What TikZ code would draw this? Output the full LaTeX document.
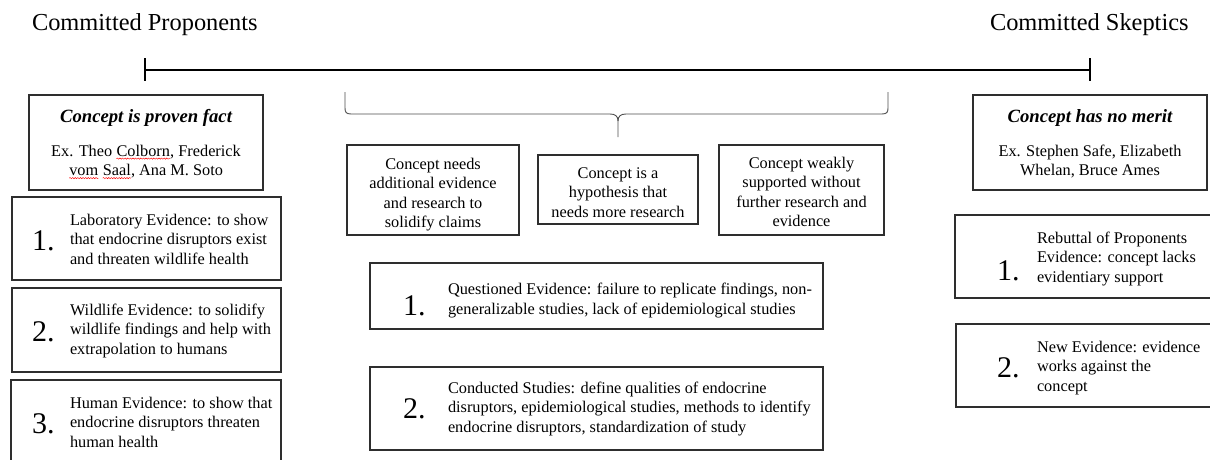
\documentclass[tikz,border=0pt]{standalone}
\usepackage{fontspec}
\setmainfont{Liberation Serif}
\usetikzlibrary{fit,decorations.pathmorphing}
\newcommand\spellmark[1]{\tikz[baseline=(w.base)]{\node[inner sep=0pt,outer sep=0pt] (w) {#1};\draw[red,line width=0.45pt,decorate,decoration={snake,amplitude=0.6pt,segment length=2.6pt}] ([yshift=-2.6pt]w.base west) -- ([yshift=-2.6pt]w.base east);}}
\begin{document}
\begin{tikzpicture}[x=1pt,y=-1pt,
  box/.style={draw=black!82,line width=1.2pt,inner sep=0pt,outer sep=0pt},
  txt/.style={inner sep=0pt,outer sep=0pt,font=\fontsize{16.3}{19.5}\selectfont},
  num/.style={inner sep=0pt,outer sep=0pt,anchor=base west,font=\fontsize{30}{30}\selectfont},
  head/.style={inner sep=0pt,outer sep=0pt,anchor=base,font=\fontsize{18.7}{22}\selectfont\bfseries\itshape},
  title/.style={inner sep=0pt,outer sep=0pt,anchor=base west,font=\fontsize{24.4}{28}\selectfont},
  axis/.style={line width=2pt,black},
  brace/.style={line width=0.9pt,black!70}]
\useasboundingbox (0,0) rectangle (1210,459);
\clip (0,0) rectangle (1210,459);
% titles
\node[title] (tP) at (32,30) {Committed Proponents};
\node[title] (tS) at (990,30) {Committed Skeptics};
% timeline
\coordinate (tlL) at (145,70);
\coordinate (tlR) at (1090,70);
\draw[axis] (tlL) -- (tlR);
\draw[axis] (145,58) -- (145,81);
\draw[axis] (1090,58) -- (1090,81);
% left column
\node[box,fit={(29,95)(263,190)}] (A) {};
\node[head] (Ah) at (146,122) {Concept is proven fact};
\node[txt,anchor=base,align=center] (At) at (146,175.5) {Ex. Theo \spellmark{Colborn}, Frederick\\\spellmark{vom} \spellmark{Saal}, Ana M. Soto};
\node[box,fit={(12,197)(281,280)}] (L1) {};
\node[num] (L1n) at (32,250) {1.};
\node[txt,anchor=base west,align=left] (L1t) at (70,264) {Laboratory Evidence: to show\\that endocrine disruptors exist\\and threaten wildlife health};
\node[box,fit={(12,288)(281,372)}] (L2) {};
\node[num] (L2n) at (32,341) {2.};
\node[txt,anchor=base west,align=left] (L2t) at (70,354) {Wildlife Evidence: to solidify\\wildlife findings and help with\\extrapolation to humans};
\node[box,fit={(11,380)(281,475)}] (L3) {};
\node[num] (L3n) at (32,433) {3.};
\node[txt,anchor=base west,align=left] (L3t) at (70,447) {Human Evidence: to show that\\endocrine disruptors threaten\\human health};
% brace
\draw[brace] (345,92) -- (345,108) .. controls (345,112) and (346,114) .. (351,114) -- (610,114)
  .. controls (615,114) and (618,116) .. (618,121) -- (618,137);
\draw[brace] (888,92) -- (888,108) .. controls (888,112) and (887,114) .. (882,114) -- (626,114)
  .. controls (621,114) and (618,116) .. (618,121);
% middle boxes
\node[box,fit={(347,145)(519,235)}] (M1) {};
\node[txt,anchor=base,align=center] (M1t) at (433,227.5) {Concept needs\\additional evidence\\and research to\\solidify claims};
\node[box,fit={(538,155)(698,224)}] (M2) {};
\node[txt,anchor=base,align=center] (M2t) at (618,217) {Concept is a\\hypothesis that\\needs more research};
\node[box,fit={(719,145)(884,235)}] (M3) {};
\node[txt,anchor=base,align=center] (M3t) at (801.5,226.5) {Concept weakly\\supported without\\further research and\\evidence};
\node[box,fit={(370,263)(823,329)}] (Q1) {};
\node[num] (Q1n) at (403,315) {1.};
\node[txt,anchor=base west,align=left] (Q1t) at (448,314) {Questioned Evidence: failure to replicate findings, non-\\generalizable studies, lack of epidemiological studies};
\node[box,fit={(370,367)(823,450)}] (Q2) {};
\node[num] (Q2n) at (403,418) {2.};
\node[txt,anchor=base west,align=left] (Q2t) at (448,432) {Conducted Studies: define qualities of endocrine\\disruptors, epidemiological studies, methods to identify\\endocrine disruptors, standardization of study};
% right column
\node[box,fit={(973,95)(1207,190)}] (R0) {};
\node[head] (R0h) at (1090,122) {Concept has no merit};
\node[txt,anchor=base,align=center] (R0t) at (1090,175.5) {Ex. Stephen Safe, Elizabeth\\Whelan, Bruce Ames};
\node[box,fit={(955,215)(1220,298)}] (R1) {};
\node[num] (R1n) at (997,280) {1.};
\node[txt,anchor=base west,align=left] (R1t) at (1037,282) {Rebuttal of Proponents\\Evidence: concept lacks\\evidentiary support};
\node[box,fit={(956,324)(1220,407)}] (R2) {};
\node[num] (R2n) at (997,377) {2.};
\node[txt,anchor=base west,align=left] (R2t) at (1037,391) {New Evidence: evidence\\works against the\\concept};
\end{tikzpicture}
\end{document}
